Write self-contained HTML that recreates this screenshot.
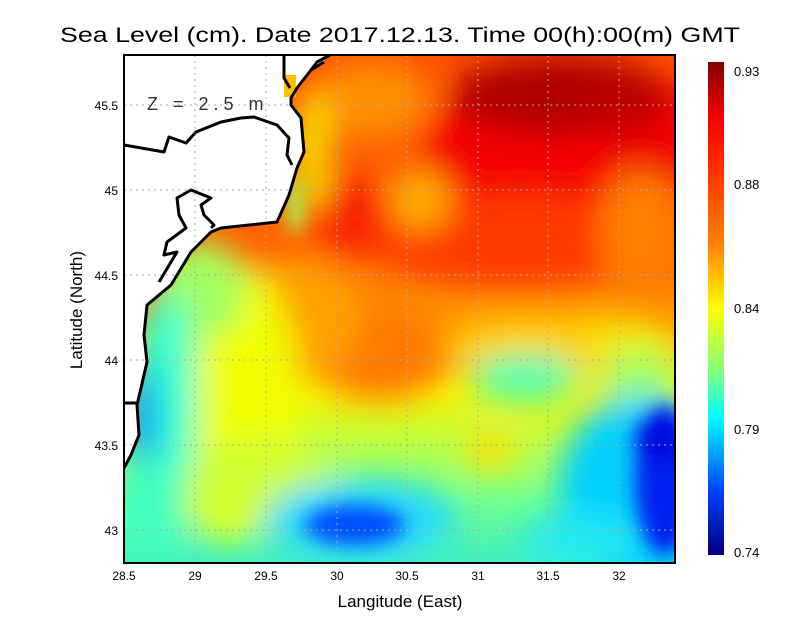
<!DOCTYPE html>
<html><head><meta charset="utf-8"><style>
body{margin:0;background:#fff;}
svg{display:block;font-family:"Liberation Sans",sans-serif;}
</style></head><body>
<svg width="800" height="618" viewBox="0 0 800 618" xmlns="http://www.w3.org/2000/svg">
<defs>
<clipPath id="pc"><rect x="124" y="55" width="551" height="508"/></clipPath>
<filter id="b" x="-50%" y="-50%" width="200%" height="200%"><feGaussianBlur stdDeviation="16"/></filter>
<filter id="b2" x="-50%" y="-50%" width="200%" height="200%"><feGaussianBlur stdDeviation="9"/></filter>
<linearGradient id="base" x1="0" y1="55" x2="0" y2="563" gradientUnits="userSpaceOnUse">
<stop offset="0" stop-color="#ff5000"/>
<stop offset="0.38" stop-color="#ff6400"/>
<stop offset="0.54" stop-color="#ffa000"/>
<stop offset="0.66" stop-color="#f8f000"/>
<stop offset="0.76" stop-color="#c0ff40"/>
<stop offset="0.88" stop-color="#70ff90"/>
<stop offset="1" stop-color="#40f0c0"/>
</linearGradient>
<linearGradient id="cb" x1="0" y1="0" x2="0" y2="1">
<stop offset="0" stop-color="#800000"/>
<stop offset="0.12" stop-color="#ff0000"/>
<stop offset="0.37" stop-color="#ff8000"/>
<stop offset="0.5" stop-color="#ffff00"/>
<stop offset="0.63" stop-color="#80ff80"/>
<stop offset="0.72" stop-color="#00ffff"/>
<stop offset="0.87" stop-color="#0040ff"/>
<stop offset="1" stop-color="#000080"/>
</linearGradient>
</defs>
<g clip-path="url(#pc)">
<rect x="100" y="30" width="600" height="560" fill="url(#base)"/>
<g filter="url(#b)">
<ellipse cx="560" cy="150" rx="140" ry="70" fill="#f40000"/>
<ellipse cx="660" cy="140" rx="40" ry="60" fill="#f00000"/>
<ellipse cx="560" cy="95" rx="110" ry="40" fill="#b00000"/>
<ellipse cx="620" cy="110" rx="40" ry="25" fill="#c00000"/>
<ellipse cx="520" cy="240" rx="150" ry="45" fill="#ff3a00"/>
<ellipse cx="350" cy="215" rx="38" ry="40" fill="#f82000"/>
<ellipse cx="420" cy="200" rx="30" ry="30" fill="#ffb000"/>
<ellipse cx="370" cy="100" rx="60" ry="40" fill="#ff9000"/>
<ellipse cx="640" cy="230" rx="40" ry="60" fill="#ff8000"/>
<ellipse cx="600" cy="350" rx="80" ry="30" fill="#f0f000"/>
<ellipse cx="530" cy="345" rx="80" ry="25" fill="#ffd000"/>
<ellipse cx="525" cy="378" rx="55" ry="25" fill="#50ffb0"/>
<ellipse cx="640" cy="380" rx="40" ry="30" fill="#a0ff60"/>
<ellipse cx="490" cy="450" rx="25" ry="20" fill="#ffe000"/>
<ellipse cx="380" cy="350" rx="70" ry="50" fill="#ff7a00"/>
<ellipse cx="300" cy="320" rx="60" ry="60" fill="#ffa000"/>
<ellipse cx="312" cy="150" rx="14" ry="60" fill="#f0ff00"/>
<ellipse cx="230" cy="400" rx="70" ry="140" fill="#f0ff00"/>
<ellipse cx="250" cy="480" rx="90" ry="40" fill="#d0ff30"/>
<ellipse cx="200" cy="290" rx="45" ry="50" fill="#a0ff60"/>
<ellipse cx="165" cy="400" rx="32" ry="110" fill="#30ffd0"/>
<ellipse cx="140" cy="420" rx="16" ry="60" fill="#0090ff"/>
<ellipse cx="150" cy="510" rx="35" ry="55" fill="#40ffc0"/>
<ellipse cx="360" cy="520" rx="95" ry="40" fill="#20d8ff"/>
<ellipse cx="640" cy="490" rx="80" ry="95" fill="#00d0ff"/>
<ellipse cx="580" cy="540" rx="60" ry="25" fill="#20e8f0"/>
</g>
<g filter="url(#b2)">
<ellipse cx="295" cy="205" rx="8" ry="30" fill="#a0ff60"/>
<ellipse cx="355" cy="525" rx="50" ry="20" fill="#0050ff"/>
<ellipse cx="665" cy="480" rx="30" ry="75" fill="#0020f0"/>
<ellipse cx="660" cy="440" rx="25" ry="25" fill="#0010e0"/>
</g>
<polygon fill="#fff" points="124,55 324,55 324,62 311,70 297,88 291,98 291,105 301,118 304,152 297,168 289,195 277,222 221,228 211,232 191,252 171,285 147,305 144,335 147,362 141,388 137,405 139,435 131,455 124,468"/>
<rect x="284" y="75" width="12" height="22" fill="#ffc000"/>
<g stroke="#aaa" stroke-width="1" stroke-dasharray="2,4" fill="none">
<line x1="195" y1="55" x2="195" y2="563"/><line x1="266" y1="55" x2="266" y2="563"/>
<line x1="337" y1="55" x2="337" y2="563"/><line x1="407" y1="55" x2="407" y2="563"/>
<line x1="478" y1="55" x2="478" y2="563"/><line x1="548" y1="55" x2="548" y2="563"/>
<line x1="619" y1="55" x2="619" y2="563"/>
<line x1="124" y1="105" x2="675" y2="105"/><line x1="124" y1="190" x2="675" y2="190"/>
<line x1="124" y1="275" x2="675" y2="275"/><line x1="124" y1="360" x2="675" y2="360"/>
<line x1="124" y1="445" x2="675" y2="445"/><line x1="124" y1="530" x2="675" y2="530"/>
</g>
<g stroke="#000" stroke-width="3" fill="none" stroke-linejoin="round">
<polyline points="324,62 311,70 297,88 291,98 291,105 301,118 304,152 297,168 289,195 277,222 221,228 211,232 191,252 171,285 147,305 144,335 147,362 141,388 137,405 139,435 131,455 124,468"/>
<polyline points="284,55 284,78 290,88"/>
<polyline points="124,145 164,152 169,137 186,143 196,132 221,122 241,118 254,117 277,125 289,138 287,155 292,165"/>
<polyline points="211,228 214,225 204,215 201,205 211,198 191,190 177,198 179,215 186,228 167,242 164,255 177,252 159,282"/>
<polyline points="124,403 137,403"/>
<polyline points="311,70 317,62 330,55"/>
</g>
</g>
<rect x="124" y="55" width="551" height="508" fill="none" stroke="#000" stroke-width="2"/>
<text x="147" y="110" font-size="18" fill="#333" letter-spacing="5">Z = 2.5 m</text>
<text x="400" y="42" font-size="21" text-anchor="middle" fill="#000" textLength="680" lengthAdjust="spacingAndGlyphs">Sea Level (cm). Date 2017.12.13. Time 00(h):00(m) GMT</text>
<g font-size="12" fill="#000" text-anchor="middle">
<text x="124" y="580">28.5</text><text x="195" y="580">29</text><text x="266" y="580">29.5</text>
<text x="337" y="580">30</text><text x="407" y="580">30.5</text><text x="478" y="580">31</text>
<text x="548" y="580">31.5</text><text x="619" y="580">32</text>
</g>
<g font-size="12" fill="#000" text-anchor="end">
<text x="118" y="110">45.5</text><text x="118" y="195">45</text><text x="118" y="280">44.5</text>
<text x="118" y="365">44</text><text x="118" y="450">43.5</text><text x="118" y="535">43</text>
</g>
<text x="400" y="607" font-size="17" text-anchor="middle">Langitude (East)</text>
<text transform="translate(82,310) rotate(-90)" font-size="17" text-anchor="middle">Latitude (North)</text>
<rect x="708" y="62" width="16" height="493" fill="url(#cb)"/>
<g font-size="13" fill="#000">
<text x="734" y="76">0.93</text><text x="734" y="189">0.88</text><text x="734" y="313">0.84</text>
<text x="734" y="434">0.79</text><text x="734" y="557">0.74</text>
</g>
</svg>
</body></html>
